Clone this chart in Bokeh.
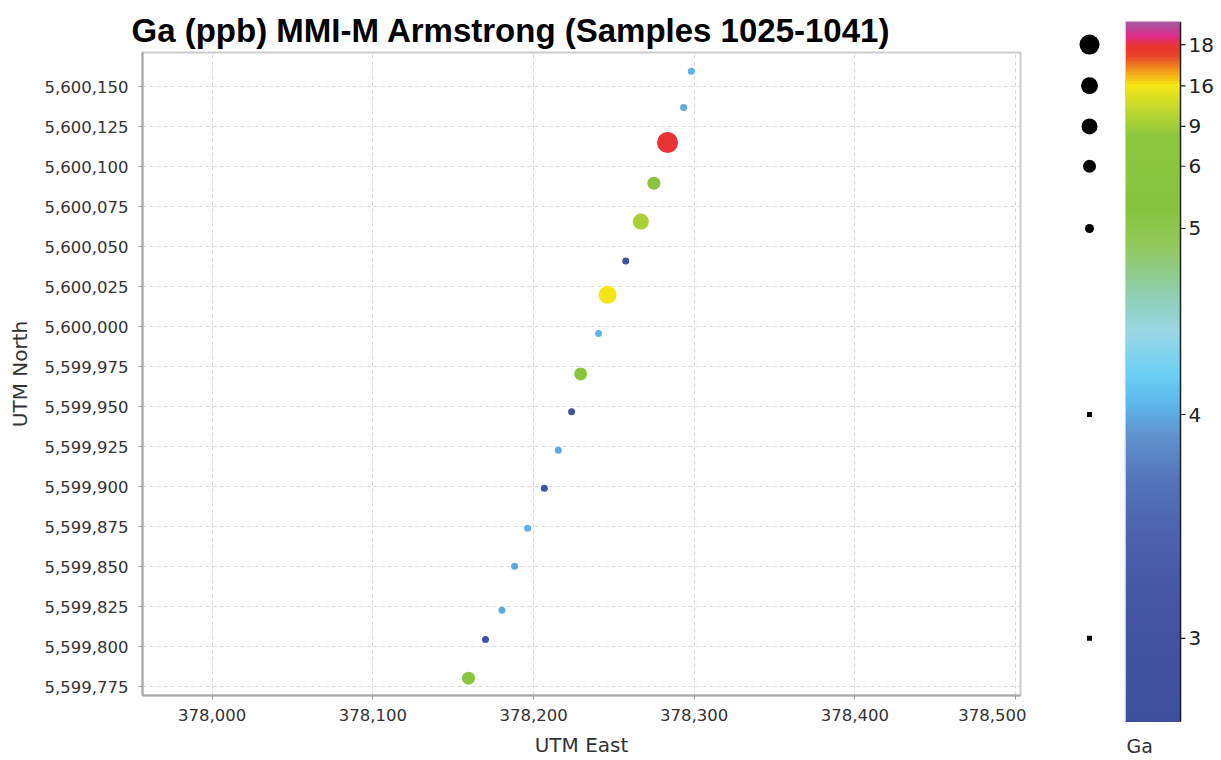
import numpy as np
from bokeh.plotting import figure
from bokeh.models import Range1d, NumeralTickFormatter, SingleIntervalTicker, ColumnDataSource
from bokeh.layouts import row
from bokeh.embed import file_html
from bokeh.resources import INLINE
from bokeh.core.properties import value

# ---------------- data ----------------
utm_east = [378298.2, 378293.4, 378283.4, 378274.9, 378266.8, 378257.4, 378246.1, 378240.5,
            378229.3, 378223.7, 378215.4, 378206.7, 378196.3, 378188.2, 378180.3, 378170.1, 378159.5]
utm_north = [5600159.6, 5600136.9, 5600115.0, 5600089.6, 5600065.6, 5600041.0, 5600019.8, 5599995.6,
             5599970.4, 5599946.7, 5599922.7, 5599898.9, 5599873.9, 5599850.2, 5599822.7, 5599804.4, 5599780.2]
ga_ppb = [4.05, 4.0, 18.0, 6.5, 10.0, 2.9, 16.0, 4.05,
          7.0, 2.9, 4.0, 2.9, 4.05, 4.0, 4.0, 2.9, 6.2]

# colour scale (non-linear, as in the legend bar)
cbar_ticks = [3, 4, 5, 6, 9, 16, 18]
cbar_tick_frac = [0.119, 0.439, 0.705, 0.794, 0.851, 0.909, 0.968]
cbar_min_val, cbar_max_val = 2.63, 19.1

stops_frac = [0.0, 0.173, 0.273, 0.345, 0.409, 0.452, 0.495, 0.559, 0.602, 0.649,
              0.684, 0.731, 0.838, 0.878, 0.911, 0.934, 0.952, 0.967, 0.981, 1.0]
stops_col = ["#3e4f9e", "#4555a4", "#4d63ae", "#5474b9", "#6092cd", "#5db4e8", "#6acff5",
             "#9ad6e4", "#8fd0bc", "#8fcb84", "#92c85a", "#86c440", "#8dc63f", "#c4d92e",
             "#f6e715", "#f2901c", "#e9452c", "#e8342e", "#e02c8c", "#a4589e"]

# size classes
size_breaks = [5, 6, 9, 16, 18]
point_sizes = [7, 9, 13, 16, 18, 21]
legend_sizes = [5, 5, 9, 13, 16, 17, 20]
legend_markers = ["square", "square", "circle", "circle", "circle", "circle", "circle"]

# ---------------- helpers ----------------
def val_to_frac(v):
    xs = [cbar_min_val] + cbar_ticks + [cbar_max_val]
    fs = [0.0] + cbar_tick_frac + [1.0]
    return float(np.interp(v, xs, fs))

def hex_rgb(h):
    h = h.lstrip("#")
    return np.array([int(h[i:i + 2], 16) for i in (0, 2, 4)], dtype=float)

stop_rgb = np.array([hex_rgb(c) for c in stops_col])

def frac_to_color(f):
    r = np.interp(f, stops_frac, stop_rgb[:, 0])
    g = np.interp(f, stops_frac, stop_rgb[:, 1])
    b = np.interp(f, stops_frac, stop_rgb[:, 2])
    return "#%02x%02x%02x" % (int(round(r)), int(round(g)), int(round(b)))

def size_for(v):
    return point_sizes[int(np.searchsorted(size_breaks, v, side="right"))]

colors = [frac_to_color(val_to_frac(v)) for v in ga_ppb]
sizes = [size_for(v) for v in ga_ppb]
src = ColumnDataSource(dict(x=utm_east, y=utm_north, c=colors, s=sizes, ga=ga_ppb))

TICK_FONT = value("DejaVu Sans")
FIG_H = 759
P_W = 1026

# ---------------- main plot ----------------
p = figure(width=P_W, height=FIG_H,
           x_range=Range1d(377956.6, 378503.1), y_range=Range1d(5599769.4, 5600171.25),
           output_backend="svg", toolbar_location=None,
           min_border_left=142, min_border_right=P_W - 1020, min_border_top=52, min_border_bottom=64)
p.frame_align = False

p.title.text = "Ga (ppb) MMI-M Armstrong (Samples 1025-1041)"
p.title.text_font = "Liberation Sans"
p.title.text_font_style = "bold"
p.title.text_font_size = "33px"
p.title.align = "left"
p.title.offset = -11
p.title.standoff = 8
p.title.text_color = "#000000"

p.scatter("x", "y", source=src, size="s", fill_color="c", line_color=None, marker="circle")

xt = SingleIntervalTicker(interval=100, num_minor_ticks=0)
yt = SingleIntervalTicker(interval=25, num_minor_ticks=0)
p.xaxis.ticker = xt
p.yaxis.ticker = yt
p.xgrid.ticker = xt
p.ygrid.ticker = yt
p.xaxis.formatter = NumeralTickFormatter(format="0,0")
p.yaxis.formatter = NumeralTickFormatter(format="0,0")

for ax in (p.xaxis[0], p.yaxis[0]):
    ax.major_label_text_font = "DejaVu Sans"
    ax.major_label_text_font_size = "16.5px"
    ax.major_label_text_color = "#333333"
    ax.axis_label_text_font = "DejaVu Sans"
    ax.axis_label_text_font_size = "20px"
    ax.axis_label_text_font_style = "normal"
    ax.axis_label_text_color = "#333333"
    ax.axis_line_color = "#a8a8a8"
    ax.axis_line_width = 2
    ax.major_tick_line_color = "#999999"
    ax.major_tick_out = 4
    ax.major_tick_in = 0
    ax.minor_tick_line_color = None

p.xaxis.axis_label = "UTM East"
p.yaxis.axis_label = "UTM North"
p.xaxis.major_label_standoff = 9
p.xaxis.axis_label_standoff = 9
p.yaxis.major_label_standoff = 10
p.yaxis.axis_label_standoff = 10

for g in (p.xgrid[0], p.ygrid[0]):
    g.grid_line_color = "#d9d9d9"
    g.grid_line_dash = "4 3"
    g.grid_line_width = 1

p.outline_line_color = "#cccccc"
p.outline_line_width = 2
p.background_fill_color = "white"
p.border_fill_color = "white"

# ---------------- legend / colour bar ----------------
bar_top_px, bar_bot_px = 21.7, 721.0
bar_len = bar_bot_px - bar_top_px
ylo = -(FIG_H - bar_bot_px) / bar_len
yhi = 1 + bar_top_px / bar_len
Q_W = 1220 - P_W
q = figure(width=Q_W, height=FIG_H, x_range=Range1d(P_W, P_W + Q_W), y_range=Range1d(ylo, yhi),
           output_backend="svg", toolbar_location=None, min_border=0)
q.frame_align = False
q.axis.visible = False
q.grid.visible = False
q.outline_line_color = None

bar_x0, bar_x1 = 1125, 1180
legend_x = 1089
n = 240
edges = np.linspace(0, 1, n + 1)
mids = (edges[:-1] + edges[1:]) / 2
bar_cols = [frac_to_color(f) for f in mids]
q.quad(left=bar_x0, right=bar_x1, bottom=edges[:-1], top=edges[1:],
       fill_color=bar_cols, line_color=bar_cols, line_width=1.2)
q.segment(x0=bar_x0, y0=0, x1=bar_x0, y1=1, line_color="#c8d0e8", line_width=1)
q.segment(x0=bar_x1, y0=0, x1=bar_x1, y1=1, line_color="#222222", line_width=1.5)

tick_frac = [val_to_frac(t) for t in cbar_ticks]
q.segment(x0=bar_x1, y0=tick_frac, x1=bar_x1 + 5, y1=tick_frac, line_color="#222222", line_width=1.2)
q.text(x=bar_x1 + 8, y=tick_frac, text=[str(t) for t in cbar_ticks],
       text_font=TICK_FONT, text_font_size="20px", text_baseline="middle",
       text_align="left", text_color="#222222")

q.scatter(x=legend_x, y=tick_frac, size=legend_sizes, marker=legend_markers,
          fill_color="black", line_color=None)

q.text(x=bar_x0 + 1, y=[-24 / bar_len], text=["Ga"],
       text_font=TICK_FONT, text_font_size="19px", text_baseline="middle",
       text_align="left", text_color="#333333")

layout = row(p, q)
open("out.html", "w").write(file_html(layout, INLINE, title="Ga (ppb) MMI-M Armstrong"))
